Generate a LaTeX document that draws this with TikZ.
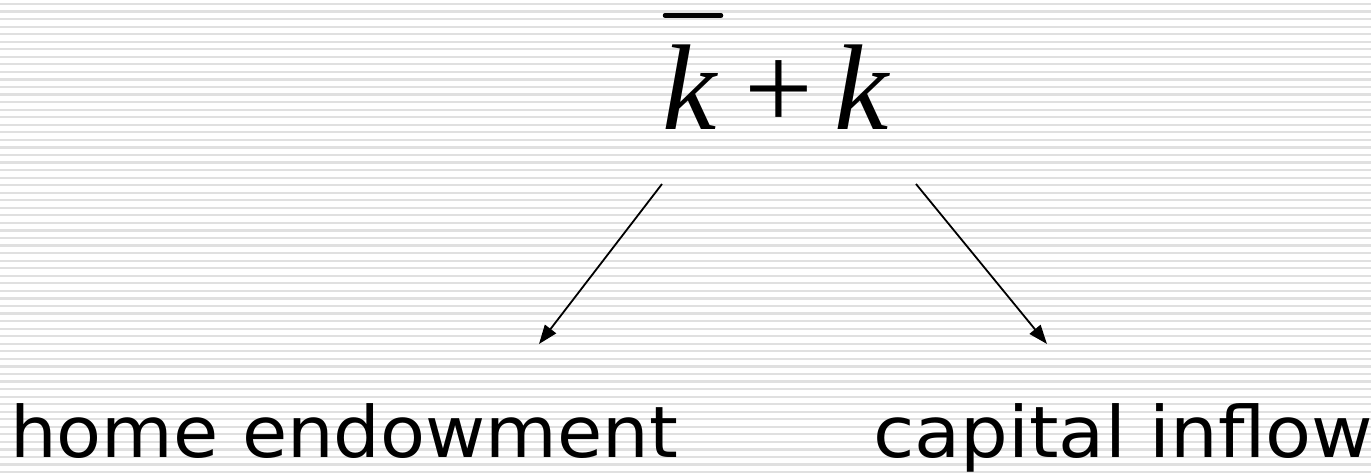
\documentclass[tikz,border=0pt]{standalone}
\usepackage{fontspec}
\setmainfont{DejaVu Sans}
\newfontfamily\timesfont{Liberation Serif}
\newfontfamily\homefont[FakeStretch=1.036]{DejaVu Sans}
\newfontfamily\capfont[FakeStretch=1.06]{DejaVu Sans}
\usetikzlibrary{arrows.meta}
\begin{document}
\begin{tikzpicture}[x=1pt,y=-1pt,
  stripe/.style={line width=2.2pt,draw=black!12},
  label/.style={inner sep=0pt,anchor=base west},
  mathk/.style={inner sep=0pt,anchor=base west,font=\fontsize{122}{130}\timesfont\itshape},
  mathop/.style={inner sep=0pt,anchor=base west,font=\fontsize{122}{130}\timesfont},
  conn/.style={line width=1.8pt,-{Triangle[length=19pt,width=14pt]}}]
\useasboundingbox (0,0) rectangle (1371,473);
\fill[white] (0,0) rectangle (1371,473);
\foreach \i in {0,...,62} \draw[stripe] (0,4+7.55*\i) -- (1371,4+7.55*\i);
% formula
\node[mathk] (k1) at (662,130) {k};
\draw[line width=4.5pt,line cap=round] (665,15.5) -- (721,15.5);
\node[mathop] (plus) at (744,130) {+};
\node[mathk] (k2) at (834,130) {k};
% labels
\node[label,font=\fontsize{71}{80}\homefont] (home) at (10,457) {home endowment};
\node[label,font=\fontsize{71}{80}\capfont] (cap) at (873,457) {capital inflow};
% connectors
\coordinate (s1) at (662,184);
\coordinate (e1) at (539,344);
\coordinate (s2) at (916,184);
\coordinate (e2) at (1047,344);
\draw[conn] (s1) -- (e1);
\draw[conn] (s2) -- (e2);
\end{tikzpicture}
\end{document}
